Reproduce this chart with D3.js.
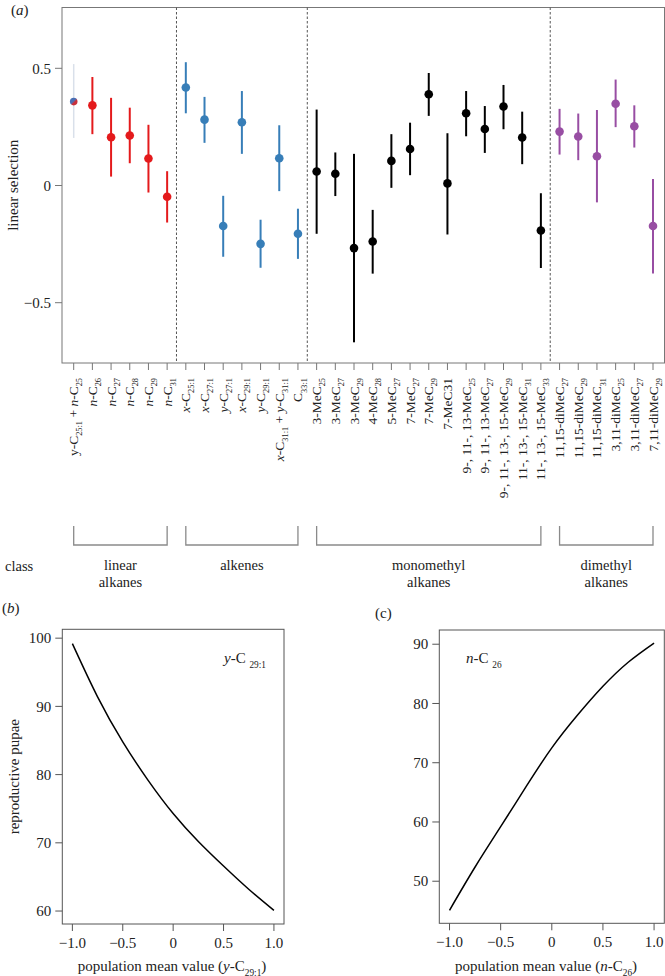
<!DOCTYPE html>
<html><head><meta charset="utf-8">
<script src="https://cdn.jsdelivr.net/npm/d3@7"></script>
<style>body{margin:0;background:#fff}svg{display:block}text{font-family:"Liberation Serif","DejaVu Serif",serif;fill:#222}</style>
</head><body>
<script>
// ---------- data: panel (a)
const categories = [
 "y-C_{25:1} + *n*-C_{25}","*n*-C_{26}","*n*-C_{27}","*n*-C_{28}","*n*-C_{29}","*n*-C_{31}",
 "*x*-C_{25:1}","*x*-C_{27:1}","*y*-C_{27:1}","*x*-C_{29:1}","*y*-C_{29:1}","*x*-C_{31:1} + *y*-C_{31:1}","C_{33:1}",
 "3-MeC_{25}","3-MeC_{27}","3-MeC_{29}","4-MeC_{28}","5-MeC_{27}","7-MeC_{27}","7-MeC_{29}","7-MeC31",
 "9-, 11-, 13-MeC_{25}","9-, 11-, 13-MeC_{27}","9-, 11-, 13-, 15-MeC_{29}","11-, 13-, 15-MeC_{31}","11-, 13-, 15-MeC_{33}",
 "11,15-diMeC_{27}","11,15-diMeC_{29}","11,15-diMeC_{31}","3,11-diMeC_{25}","3,11-diMeC_{27}","7,11-diMeC_{29}"
];
const groupOf = ["mixed","linear","linear","linear","linear","linear",
 "alkene","alkene","alkene","alkene","alkene","alkene","alkene",
 "mono","mono","mono","mono","mono","mono","mono","mono","mono","mono","mono","mono","mono",
 "di","di","di","di","di","di"];
const estimate = [0.358,0.342,0.206,0.213,0.115,-0.048,
 0.418,0.281,-0.173,0.270,-0.249,0.116,-0.206,
 0.060,0.050,-0.267,-0.239,0.105,0.156,0.389,0.009,0.308,0.241,0.337,0.205,-0.192,
 0.230,0.209,0.125,0.349,0.253,-0.173];
const upper = [0.518,0.463,0.374,0.332,0.259,0.061,
 0.526,0.378,-0.044,0.403,-0.146,0.257,-0.099,
 0.324,0.141,0.135,-0.104,0.219,0.268,0.480,0.223,0.403,0.339,0.429,0.315,-0.033,
 0.327,0.307,0.322,0.452,0.342,0.028];
const lower = [0.203,0.219,0.038,0.095,-0.030,-0.158,
 0.308,0.182,-0.304,0.135,-0.351,-0.024,-0.313,
 -0.206,-0.045,-0.669,-0.376,-0.010,0.044,0.297,-0.209,0.210,0.139,0.240,0.091,-0.352,
 0.132,0.108,-0.072,0.249,0.162,-0.375];
const yTicksA = [-0.5,0,0.5];
const yTickLabelsA = ["\u22120.5","0","0.5"];
const classNames = [["linear","alkanes"],["alkenes"],["monomethyl","alkanes"],["dimethyl","alkanes"]];
const classStart = [0,6,13,26];
const classEnd = [5,12,25,31];
const dividers = [5.5,12.5,25.5];

// ---------- data: panels (b) and (c)
const curveX = [-1,-0.75,-0.5,-0.25,0,0.25,0.5,0.75,1];
const pupaeB = [99.2,91.4,84.8,79.2,74.3,70.2,66.6,63.2,60.1];
const pupaeC = [45.1,52.4,59.2,66.0,72.5,78.0,82.9,87.0,90.2];
const xTicksBC = [-1,-0.5,0,0.5,1];
const xTickLabelsBC = ["\u22121.0","\u22120.5","0","0.5","1.0"];
const yTicksB = [60,70,80,90,100];
const yTicksC = [50,60,70,80,90];

const colors = {linear:"#e41a1c",alkene:"#377eb8",mono:"#000000",di:"#984ea3"};

const W=665,H=976;
const svg=d3.select("body").append("svg").attr("width",W).attr("height",H);
const defs=svg.append("defs");
const grad=defs.append("linearGradient").attr("id","mix").attr("x1","0").attr("y1","0").attr("x2","1").attr("y2","1");
grad.append("stop").attr("offset","0.45").attr("stop-color","#4a6fb5");
grad.append("stop").attr("offset","0.6").attr("stop-color","#c8303a");

// rich text helper: *italic*, _{sub}
function rich(sel,str,fs){
  const re=/(\*[^*]+\*|_\{[^}]+\})/g;
  let parts=str.split(re).filter(s=>s.length);
  let shifted=false;
  parts.forEach(p=>{
    if(p.startsWith("*")){
      const t=sel.append("tspan").attr("font-style","italic").text(p.slice(1,-1));
      if(shifted){t.attr("dy",-fs*0.3);shifted=false;}
    } else if(p.startsWith("_{")){
      sel.append("tspan").attr("font-size",fs*0.62).attr("dy",fs*0.3).text(p.slice(2,-1));
      shifted=true;
    } else {
      const t=sel.append("tspan").text(p);
      if(shifted){t.attr("dy",-fs*0.3);shifted=false;}
    }
  });
}

// ---------- panel (a)
const A={l:62,r:664.5,t:7.5,b:363};
const xA=d3.scaleLinear().domain([0,31]).range([73.7,653]);
const yA=d3.scaleLinear().domain([-0.5,0.5]).range([302.7,68.3]);
const gA=svg.append("g");
gA.append("rect").attr("x",A.l).attr("y",A.t).attr("width",A.r-A.l).attr("height",A.b-A.t)
  .attr("fill","none").attr("stroke","#777").attr("stroke-width",1);
dividers.forEach(d=>{
  gA.append("line").attr("x1",xA(d)).attr("x2",xA(d)).attr("y1",A.t).attr("y2",A.b)
    .attr("stroke","#555").attr("stroke-width",1).attr("stroke-dasharray","2.5,2");
});
// y axis
yTicksA.forEach((v,i)=>{
  gA.append("line").attr("x1",A.l-7).attr("x2",A.l).attr("y1",yA(v)).attr("y2",yA(v)).attr("stroke","#777");
  gA.append("text").attr("x",A.l-11).attr("y",yA(v)).attr("dy","0.35em").attr("text-anchor","end")
    .attr("font-size",15).text(yTickLabelsA[i]);
});
gA.append("text").attr("transform",`translate(18,${(A.t+A.b)/2}) rotate(-90)`).attr("text-anchor","middle")
  .attr("font-size",15).text("linear selection");
gA.append("text").attr("x",11).attr("y",15).attr("font-size",15).html('(<tspan font-style="italic">a</tspan>)');
// x ticks and labels
categories.forEach((c,i)=>{
  gA.append("line").attr("x1",xA(i)).attr("x2",xA(i)).attr("y1",A.b).attr("y2",A.b+7).attr("stroke","#777");
  const t=gA.append("text").attr("transform",`translate(${xA(i)+4.5},${A.b+15}) rotate(-90)`)
    .attr("text-anchor","end").attr("font-size",13.5);
  rich(t,c,13.5);
});
// error bars and points
categories.forEach((c,i)=>{
  const g=groupOf[i];
  if(g==="mixed"){
    gA.append("line").attr("x1",xA(i)).attr("x2",xA(i)).attr("y1",yA(upper[i])).attr("y2",yA(lower[i]))
      .attr("stroke","#d9e0ea").attr("stroke-width",1.5);
    gA.append("circle").attr("cx",xA(i)).attr("cy",yA(estimate[i])).attr("r",3.8).attr("fill","url(#mix)");
  } else {
    gA.append("line").attr("x1",xA(i)).attr("x2",xA(i)).attr("y1",yA(upper[i])).attr("y2",yA(lower[i]))
      .attr("stroke",colors[g]).attr("stroke-width",2);
    gA.append("circle").attr("cx",xA(i)).attr("cy",yA(estimate[i])).attr("r",4.3).attr("fill",colors[g]);
  }
});
// class brackets
gA.append("text").attr("x",5).attr("y",571).attr("font-size",14.5).text("class");
classNames.forEach((nm,k)=>{
  const x0=xA(classStart[k]),x1=xA(classEnd[k]);
  gA.append("path").attr("d",`M${x0},526V545H${x1}V526`).attr("fill","none").attr("stroke","#8a8a8a").attr("stroke-width",1.3);
  nm.forEach((line,j)=>{
    gA.append("text").attr("x",(x0+x1)/2).attr("y",570+j*17).attr("text-anchor","middle").attr("font-size",14.5).text(line);
  });
});

// ---------- panels (b) and (c)
function curvePanel(box,yDom,yTicks,vals,label,annot,annotX,annotY,xlabelCenter,panelTxt,panelX,panelY,italicPanel,ylabel){
  const g=svg.append("g");
  const x=d3.scaleLinear().domain([-1.1,1.1]).range([box.l,box.r]);
  const y=d3.scaleLinear().domain(yDom).range([box.b,box.t]);
  g.append("rect").attr("x",box.l).attr("y",box.t).attr("width",box.r-box.l).attr("height",box.b-box.t)
    .attr("fill","none").attr("stroke","#555").attr("stroke-width",1);
  yTicks.forEach(v=>{
    g.append("line").attr("x1",box.l-7).attr("x2",box.l).attr("y1",y(v)).attr("y2",y(v)).attr("stroke","#555");
    g.append("text").attr("x",box.l-11).attr("y",y(v)).attr("dy","0.35em").attr("text-anchor","end").attr("font-size",15).text(v);
  });
  xTicksBC.forEach((v,i)=>{
    g.append("line").attr("x1",x(v)).attr("x2",x(v)).attr("y1",box.b).attr("y2",box.b+7).attr("stroke","#555");
    g.append("text").attr("x",x(v)).attr("y",box.b+24).attr("text-anchor","middle").attr("font-size",15).text(xTickLabelsBC[i]);
  });
  const line=d3.line().x((d,i)=>x(curveX[i])).y(d=>y(d)).curve(d3.curveNatural);
  g.append("path").attr("d",line(vals)).attr("fill","none").attr("stroke","#000").attr("stroke-width",1.5);
  const xl=g.append("text").attr("x",xlabelCenter).attr("y",971).attr("text-anchor","middle").attr("font-size",15);
  rich(xl,label,15);
  const an=g.append("text").attr("x",annotX).attr("y",annotY).attr("font-size",15);
  rich(an,annot,15);
  const pt=g.append("text").attr("x",panelX).attr("y",panelY).attr("font-size",15);
  if(italicPanel) pt.html(`(<tspan font-style="italic">${panelTxt}</tspan>)`); else pt.text(`(${panelTxt})`);
  if(ylabel) g.append("text").attr("transform",`translate(19,${(box.t+box.b)/2}) rotate(-90)`).attr("text-anchor","middle").attr("font-size",15).text(ylabel);
}
curvePanel({l:62.3,r:284,t:629.3,b:924},[58.1,101.3],yTicksB,pupaeB,
  "population mean value (*y*-C_{29:1})","*y*-C _{29:1}",224,663,172,"b",2,613,true,"reproductive pupae");
curvePanel({l:439.3,r:664.3,t:630,b:923.3},[42.9,92.4],yTicksC,pupaeC,
  "population mean value (*n*-C_{26})","*n*-C _{26}",466,663,546,"c",375,618,false,null);
</script>
</body></html>
